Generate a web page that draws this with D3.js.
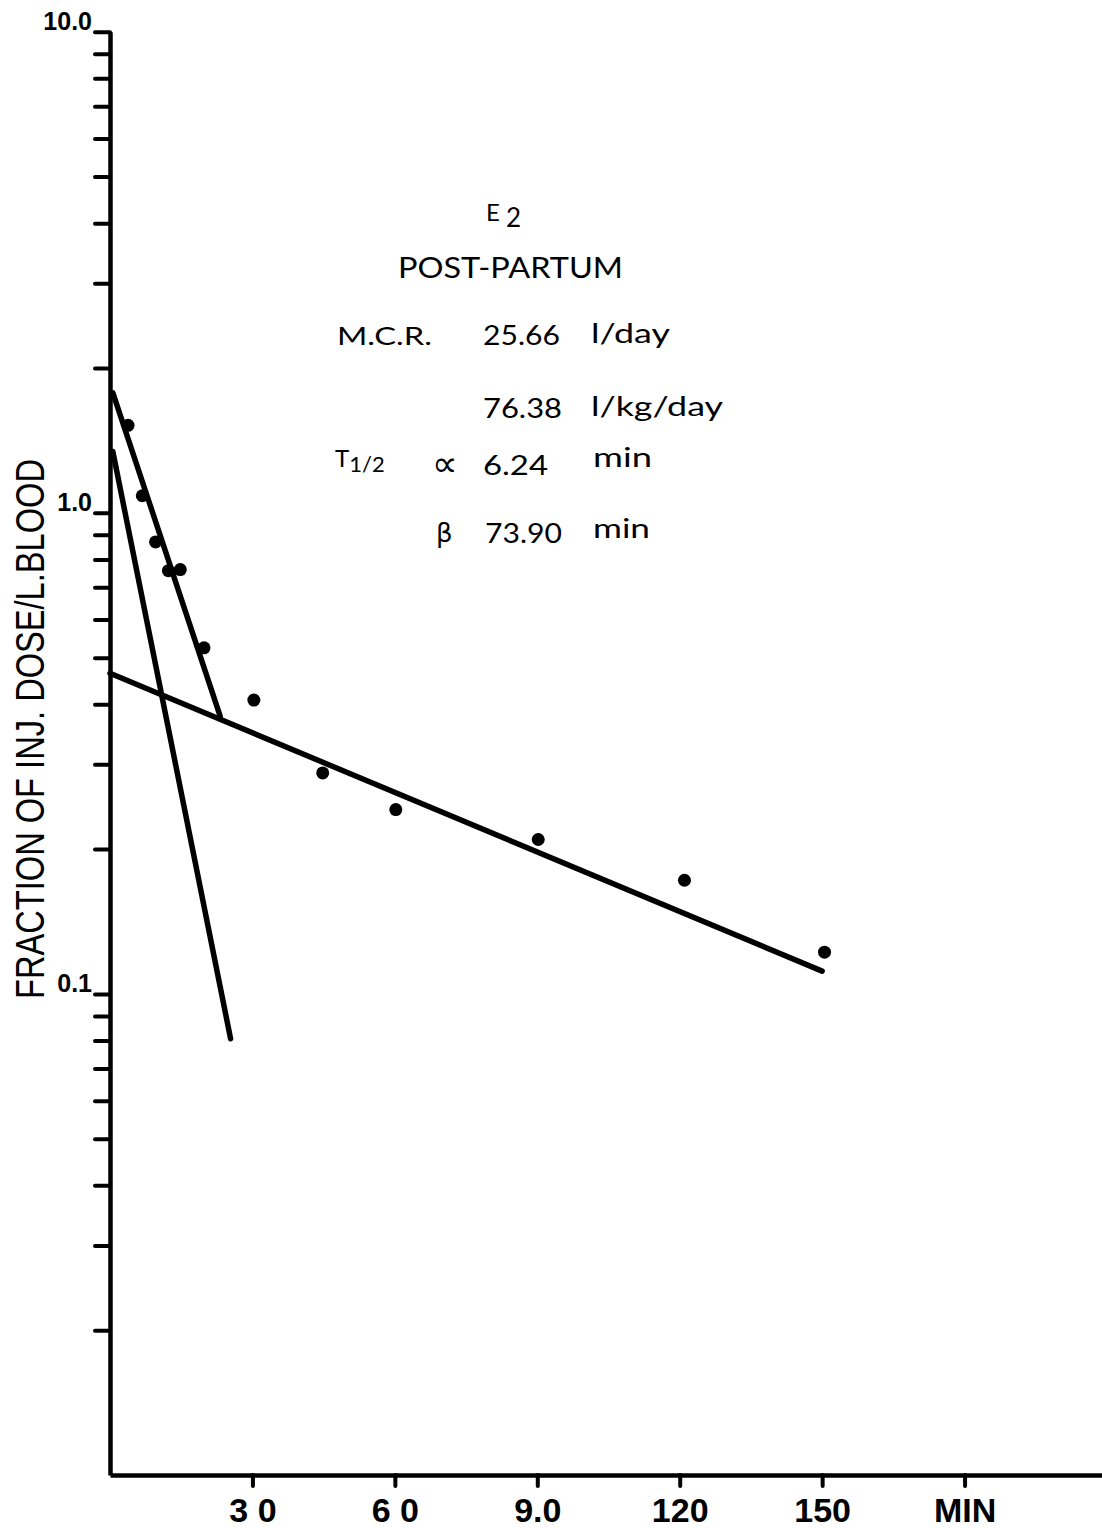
<!doctype html>
<html lang="en">
<head>
    <meta charset="utf-8">
    <title>E2 post-partum - fraction of injected dose</title>
    <script src="https://d3js.org/d3.v7.min.js"></script>
    <style>
        body { margin: 0; background: #fff; }
        svg { display: block; }
        .axis path, .axis line { stroke: #000; }
        .axis text { fill: #000; }
    </style>
</head>
<body>
<svg id="chart"></svg>
<script>
    // sampling times (min) and measured fractions of injected dose / L blood
    const times  = [3.8, 6.8, 9.6, 12.3, 14.8, 19.8, 30.3, 44.8, 60.2, 90.2, 121, 150.5];
    const values = [1.52, 1.085, 0.87, 0.758, 0.762, 0.524, 0.408, 0.288, 0.2416, 0.2094, 0.1723, 0.1221];

    // fitted lines (start / end of each segment)
    const betaT  = [0, 150],    betaV  = [0.464, 0.1115];
    const totalT = [0.6, 23.2], totalV = [1.776, 0.378];
    const alphaT = [0.6, 25.4], alphaV = [1.34, 0.0807];

    // tick marks and labels
    const xTicks = [30, 60, 90, 120, 150, 180];
    const xTickLabels = ["3 0", "6 0", "9.0", "120", "150", "MIN"];
    const yMajor = [10, 1, 0.1];
    const yMajorLabels = ["10.0", "1.0", "0.1"];

    const W = 1102, H = 1528;
    const svg = d3.select("#chart").attr("width", W).attr("height", H);

    const x = d3.scaleLinear().domain([0, 210]).range([110, 1107]);
    const y = d3.scaleLog().domain([0.01, 10]).range([1475, 31.7]);

    // minor ticks 2..9 of every decade plus the decade marks
    let yTicks = [];
    [0.01, 0.1, 1].forEach(d => {
        for (let k = 2; k <= 10; k++) yTicks.push(+(d * k).toPrecision(3));
    });

    const yAxis = d3.axisLeft(y)
        .tickValues(yTicks)
        .tickSize(15)
        .tickSizeOuter(0)
        .tickPadding(3)
        .tickFormat(v => {
            const i = yMajor.indexOf(v);
            return i >= 0 ? yMajorLabels[i] : "";
        });

    const gy = svg.append("g")
        .attr("class", "axis")
        .attr("transform", "translate(" + x(0) + ",0)")
        .call(yAxis);
    gy.select(".domain").attr("stroke-width", 4.5);
    gy.selectAll(".tick line").attr("stroke-width", 4).attr("stroke-linecap", "round");
    gy.selectAll(".tick text")
        .attr("font-family", "'Liberation Sans', Arial, sans-serif")
        .attr("font-size", 25)
        .attr("font-weight", "bold")
        .attr("dy", "-0.1em");

    const xAxis = d3.axisBottom(x)
        .tickValues(xTicks)
        .tickSize(11)
        .tickSizeOuter(0)
        .tickPadding(12)
        .tickFormat((d, i) => xTickLabels[i]);

    const gx = svg.append("g")
        .attr("class", "axis")
        .attr("transform", "translate(0," + y(0.01) + ")")
        .call(xAxis);
    gx.select(".domain").attr("stroke-width", 4.5);
    gx.selectAll(".tick line").attr("stroke-width", 4).attr("stroke-linecap", "round");
    gx.selectAll(".tick text")
        .attr("font-family", "'Liberation Sans', Arial, sans-serif")
        .attr("font-size", 34)
        .attr("font-weight", "bold");

    // y axis title
    svg.append("text")
        .attr("transform", "translate(44,729) rotate(-90)")
        .attr("text-anchor", "middle")
        .attr("font-family", "'Liberation Sans', Arial, sans-serif")
        .attr("font-size", 40)
        .attr("textLength", 540)
        .attr("lengthAdjust", "spacingAndGlyphs")
        .text("FRACTION OF INJ. DOSE/L.BLOOD");

    // fitted lines
    const line = d3.line().x(d => x(d[0])).y(d => y(d[1]));
    [[betaT, betaV], [totalT, totalV], [alphaT, alphaV]].forEach(([ts, vs]) => {
        svg.append("path")
            .attr("d", line(d3.zip(ts, vs)))
            .attr("fill", "none")
            .attr("stroke", "#000")
            .attr("stroke-width", 5.5)
            .attr("stroke-linecap", "round");
    });

    // measured points
    svg.append("g")
        .selectAll("circle")
        .data(d3.zip(times, values))
        .join("circle")
        .attr("cx", d => x(d[0]))
        .attr("cy", d => y(d[1]))
        .attr("r", 6.5)
        .attr("fill", "#000");

    // annotation block
    const note = svg.append("g")
        .attr("font-family", "Lato, 'Open Sans', sans-serif")
        .attr("fill", "#000");

    const e2 = note.append("text").attr("x", 486).attr("y", 221).attr("font-size", 24);
    e2.append("tspan").text("E");
    e2.append("tspan").attr("dx", 6).attr("dy", 6).attr("font-size", 26).text("2");

    note.append("text").attr("x", 398).attr("y", 278).attr("font-size", 28)
        .attr("textLength", 225).attr("lengthAdjust", "spacingAndGlyphs").text("POST-PARTUM");

    const rows = [
        ["M.C.R.", 337, 345, 25, 95],
        ["25.66", 483, 345, 27, 77],
        ["l/day", 591, 343, 27, 79],
        ["76.38", 483, 418, 27, 79],
        ["l/kg/day", 591, 416, 27, 132],
        ["6.24", 483, 475, 27, 65],
        ["min", 593, 467, 27, 59],
        ["73.90", 485, 543, 27, 77],
        ["min", 593, 538, 27, 57]
    ];
    rows.forEach(r => {
        note.append("text").attr("x", r[1]).attr("y", r[2]).attr("font-size", r[3])
            .attr("textLength", r[4]).attr("lengthAdjust", "spacingAndGlyphs").text(r[0]);
    });

    const th = note.append("text").attr("x", 335).attr("y", 467).attr("font-size", 24);
    th.append("tspan").text("T");
    th.append("tspan").attr("dy", 5).attr("font-size", 22).text("1/2");

    note.append("text").attr("x", 432).attr("y", 476).attr("font-size", 36)
        .attr("font-family", "'DejaVu Sans', sans-serif").text("\u221D");
    note.append("text").attr("x", 436).attr("y", 542).attr("font-size", 26)
        .attr("font-family", "'DejaVu Sans', sans-serif").text("\u03B2");
</script>
</body>
</html>
